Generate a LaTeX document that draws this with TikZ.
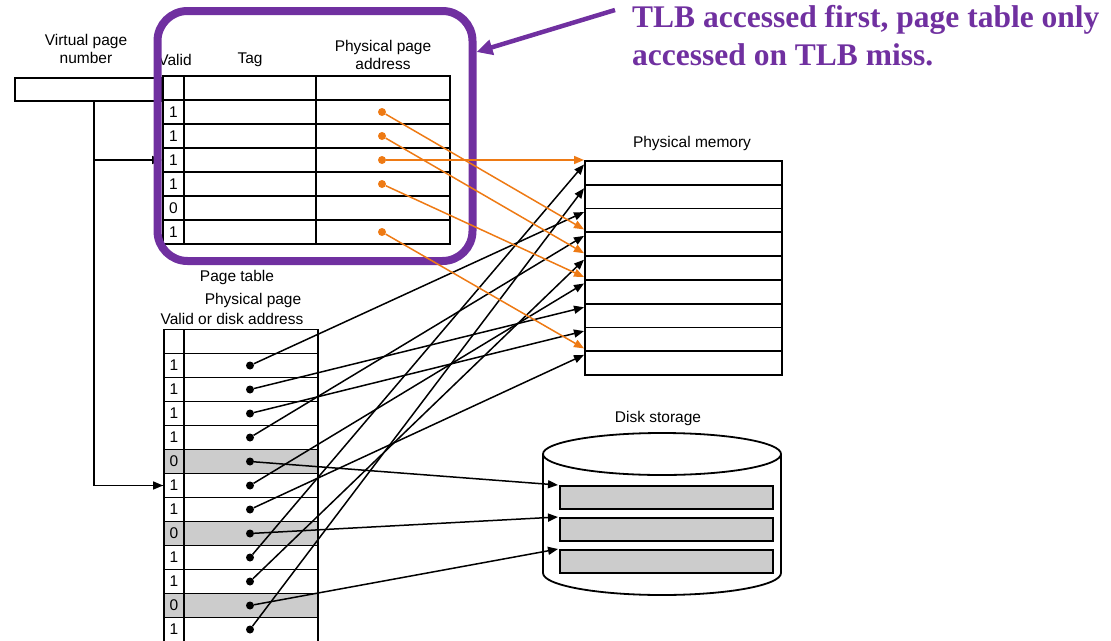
\documentclass[tikz,border=0pt]{standalone}
\usepackage{fontspec}
\setmainfont{Liberation Sans}
\newfontfamily\notefont{Liberation Serif}
\usepackage{tikz}
\usetikzlibrary{arrows.meta}
\tikzset{every picture/.append style={font=\fontsize{15.5}{18.5}\selectfont}}
\definecolor{tlbpurple}{HTML}{7030A0}
\definecolor{tlborange}{HTML}{EE7A14}
\definecolor{diskgray}{HTML}{CCCCCC}
\tikzset{
  cell/.style={draw,line width=1.8pt,inner sep=0pt,minimum height=24pt},
  dot/.style={circle,fill,inner sep=0pt,minimum size=8pt},
  link/.style={line width=1.5pt,-{Triangle[length=10pt,width=8pt]}},
  tlblink/.style={link,tlborange}
}

\begin{document}
\begin{tikzpicture}[x=1pt,y=-1pt]
    \useasboundingbox (0,0) rectangle (1111,640);
    \node[cell,minimum width=146pt,minimum height=23pt,anchor=north west] (vpn) at (14,77) {};
    \node[align=center] (lblvpn) at (86,49) {Virtual page\\number};
    \foreach \k/\b in {0/{},1/1,2/1,3/1,4/1,5/0,6/1} {
      \node[cell,minimum width=21pt] (tv\k) at (173.5,88+24*\k) {\b};
      \node[cell,minimum width=132pt] (tt\k) at (250,88+24*\k) {};
      \node[cell,minimum width=134pt] (tp\k) at (383,88+24*\k) {};
    }
    \foreach \k in {1,2,3,4,6}
      \node[dot,tlborange] (td\k) at (382,88+24*\k) {};
    \node (lblvalid) at (175,60) {Valid};
    \node (lbltag) at (250,60) {Tag};
    \node[align=center] (lblppa) at (383,55) {Physical page\\address};
    \node (lblpt) at (237,277) {Page table};
    \node (lblptpp) at (253,300) {Physical page};
    \node (lblptvalid) at (232,319) {Valid or disk address};
    \foreach \k/\b in {0/{},1/1,2/1,3/1,4/1,5/0,6/1,7/1,8/0,9/1,10/1,11/0,12/1} {
      \node[cell,minimum width=20pt] (pv\k) at (174,341.5+24*\k) {\b};
      \node[cell,minimum width=134pt] (pp\k) at (251,341.5+24*\k) {};
    }
    \foreach \k in {5,8,11} {
      \node[cell,fill=diskgray,minimum width=20pt] at (pv\k) {0};
      \node[cell,fill=diskgray,minimum width=134pt] at (pp\k) {};
    }
    \foreach \k in {1,...,12}
      \node[dot] (pd\k) at (250,341.5+24*\k) {};
    \node (lblmem) at (692,143) {Physical memory};
    \foreach \k in {1,...,9}
      \node[cell,minimum width=197pt,minimum height=23.8pt,anchor=north west] (mem\k) at (584,160+23.8*\k-23.8) {};
    \node (lbldisk) at (658,418) {Disk storage};
    \draw[line width=1.8pt] (543,454) -- (543,573) arc[start angle=180,end angle=360,x radius=119pt,y radius=22pt] -- (781,454);
    \draw[line width=1.8pt,fill=white] (662,454) ellipse[x radius=119pt,y radius=21pt];
    \foreach \k/\y in {1/485,2/517,3/549}
      \node[cell,fill=diskgray,minimum width=213pt,minimum height=23pt,anchor=north west] (disk\k) at (559,\y) {};
    \coordinate (stem) at (94,100);
    \draw[line width=1.5pt] (stem) |- (pv6.west);
    \draw[link] (stem |- tv3.west) -- (tv3.west);
    \draw[link] (stem |- pv6.west) -- (pv6.west);
    \foreach \s/\t in {1/3,2/7,3/8,4/4,6/6,7/9,9/1,10/5,12/2}
      \draw[link] (pd\s) -- ([yshift=-4.5pt]mem\t.north west);
    \foreach \s/\t in {5/1,8/2,11/3}
      \draw[link] (pd\s) -- ([xshift=-1pt]disk\t.north west);
    \node[draw=tlbpurple,line width=8pt,rounded corners=30pt,minimum width=315pt,minimum height=250pt] (tlb) at (315,136) {};
    \foreach \s/\t in {1/4,2/5,4/6,6/9}
      \draw[tlblink] (td\s) -- ([yshift=2pt]mem\t.north west);
    \draw[tlblink] (td3) -- (mem1.north west);
    \node[tlbpurple,font=\notefont\bfseries\fontsize{31.5}{37.5}\selectfont,align=left,anchor=base west,inner sep=0pt] (note) at (632,65) {TLB accessed first, page table only\\accessed on TLB miss.};
    \coordinate (notetip) at (615,10);
    \draw[tlbpurple,line width=4.5pt,-{Triangle[length=16pt,width=15pt]}] (notetip) -- ([yshift=-45pt]tlb.north east);
  \end{tikzpicture}
\end{document}
